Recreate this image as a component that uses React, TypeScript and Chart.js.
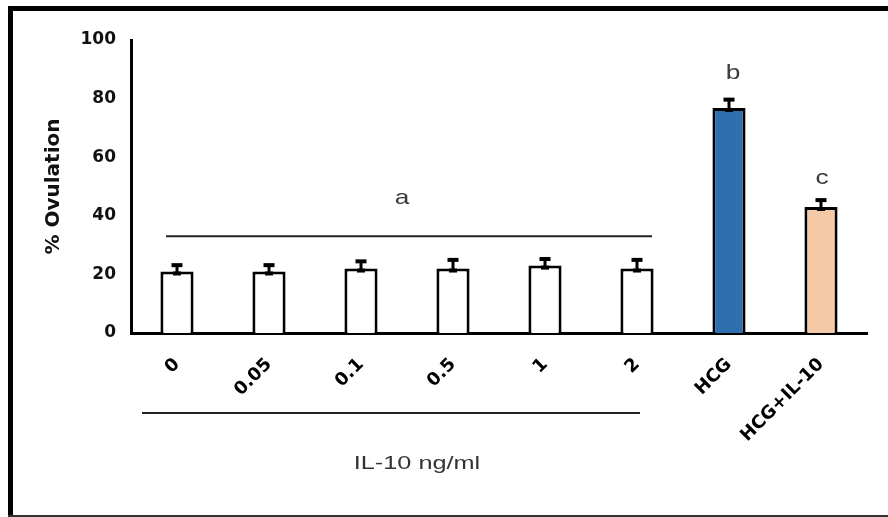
import React, { useEffect, useRef } from "react";
import { Chart, registerables } from "chart.js";

Chart.register(...registerables);

const categories = ["0", "0.05", "0.1", "0.5", "1", "2", "HCG", "HCG+IL-10"];
const ovulation = [21, 21, 22, 22, 23, 22, 76.8, 43];
const errors = [2.5, 2.5, 2.8, 3.3, 2.6, 3.3, 3.2, 2.7];
const barColors = ["#ffffff", "#ffffff", "#ffffff", "#ffffff", "#ffffff", "#ffffff", "#2e6fb0", "#f6caa6"];
const yTicks = [0, 20, 40, 60, 80, 100];
const groupLetters = ["a", "b", "c"];
const letterValues = [46, 88.7, 52.8];
const bracketValue = 33;
const xTitle = "IL-10 ng/ml";
const yTitle = "% Ovulation";

function stretchedText(ctx: any, text: string, x: number, y: number, sx: number) {
  ctx.save();
  ctx.translate(x, y);
  ctx.scale(sx, 1);
  ctx.fillText(text, 0, 0);
  ctx.restore();
}

const annotationPlugin = {
  id: "annotations",
  beforeDraw(chart: any) {
    const ctx = chart.ctx;
    ctx.save();
    ctx.fillStyle = "#ffffff";
    ctx.fillRect(0, 0, chart.width, chart.height);
    ctx.restore();
  },
  afterDatasetsDraw(chart: any) {
    const ctx = chart.ctx;
    const y = chart.scales.y;
    const meta = chart.getDatasetMeta(0);
    ctx.save();
    // error bars
    ctx.strokeStyle = "#000";
    ctx.fillStyle = "#000";
    meta.data.forEach((bar: any, i: number) => {
      const cx = bar.x;
      const top = y.getPixelForValue(ovulation[i] + errors[i]);
      const base = y.getPixelForValue(ovulation[i]);
      ctx.lineWidth = 3;
      ctx.beginPath();
      ctx.moveTo(cx, top);
      ctx.lineTo(cx, base + 3);
      ctx.stroke();
      ctx.fillRect(cx - 5.5, top - 1, 11, 4);
      ctx.fillRect(cx - 4, base, 8, 4);
    });
    // group bracket line over IL-10 bars
    const first = meta.data[0].x;
    const last = meta.data[5].x;
    const by = y.getPixelForValue(bracketValue);
    ctx.lineWidth = 2;
    ctx.strokeStyle = "#222";
    ctx.beginPath();
    ctx.moveTo(first - 11, by);
    ctx.lineTo(last + 15, by);
    ctx.stroke();
    // letters
    ctx.font = "21px Arial, 'Liberation Sans', sans-serif";
    ctx.fillStyle = "#3a3a3a";
    ctx.textAlign = "center";
    ctx.textBaseline = "middle";
    const mid = (first + last) / 2 - 5;
    stretchedText(ctx, groupLetters[0], mid, y.getPixelForValue(letterValues[0]), 1.25);
    stretchedText(ctx, groupLetters[1], meta.data[6].x + 4, y.getPixelForValue(letterValues[1]), 1.25);
    stretchedText(ctx, groupLetters[2], meta.data[7].x + 1, y.getPixelForValue(letterValues[2]), 1.25);
    // lower bracket and x title
    const bottom = chart.chartArea.bottom;
    ctx.lineWidth = 2;
    ctx.strokeStyle = "#222";
    ctx.beginPath();
    ctx.moveTo(first - 35, bottom + 80);
    ctx.lineTo(last + 3, bottom + 80);
    ctx.stroke();
    ctx.font = "19px Arial, 'Liberation Sans', sans-serif";
    ctx.fillStyle = "#333";
    stretchedText(ctx, xTitle, (first + last) / 2 + 10, bottom + 131, 1.33);
    // outer frame
    ctx.fillStyle = "#000";
    ctx.fillRect(8, 6, chart.width - 8, 5);
    ctx.fillRect(8, 6, 5, chart.height - 6);
    ctx.fillStyle = "#333";
    ctx.fillRect(8, chart.height - 2, chart.width - 8, 2);
    ctx.restore();
  },
};

export default function App() {
  const ref = useRef<HTMLCanvasElement | null>(null);
  useEffect(() => {
    if (!ref.current) return;
    const chart = new Chart(ref.current, {
      type: "bar",
      data: {
        labels: categories,
        datasets: [
          {
            data: ovulation,
            backgroundColor: barColors,
            borderColor: "#000",
            borderWidth: 3,
            barPercentage: 0.36,
            categoryPercentage: 1,
          },
        ],
      },
      options: {
        animation: false,
        responsive: false,
        devicePixelRatio: 1,
        layout: { padding: { left: 0, top: 40, right: 21, bottom: 0 } },
        plugins: { legend: { display: false }, tooltip: { enabled: false } },
        scales: {
          x: {
            grid: { display: false, drawTicks: false },
            border: { display: true, color: "#000", width: 3 },
            ticks: {
              color: "#000",
              font: { family: "'DejaVu Sans', sans-serif", size: 18, weight: "bold" },
              minRotation: 45,
              maxRotation: 45,
              autoSkip: false,
              padding: 21,
            },
            afterFit: (s: any) => {
              s.height = 184;
            },
          },
          y: {
            min: 0,
            max: 100,
            grid: { display: false, drawTicks: false },
            border: { display: true, color: "#000", width: 3 },
            afterBuildTicks: (s: any) => {
              s.ticks = yTicks.map((v) => ({ value: v }));
            },
            ticks: {
              color: "#111",
              font: { family: "'DejaVu Sans', sans-serif", size: 17, weight: "bold" },
              padding: 15,
            },
            title: {
              display: true,
              text: yTitle,
              color: "#111",
              font: { family: "'DejaVu Sans', sans-serif", size: 20, weight: "bold" },
              padding: { top: 42, bottom: 0 },
            },
            afterFit: (s: any) => {
              s.width = 131;
            },
          },
        },
      },
      plugins: [annotationPlugin],
    });
    return () => chart.destroy();
  }, []);
  return (
    <div style={{ position: "fixed", left: 0, top: 0, width: 888, height: 517 }}>
      <canvas ref={ref} width={888} height={517} style={{ width: 888, height: 517, display: "block" }} />
    </div>
  );
}
